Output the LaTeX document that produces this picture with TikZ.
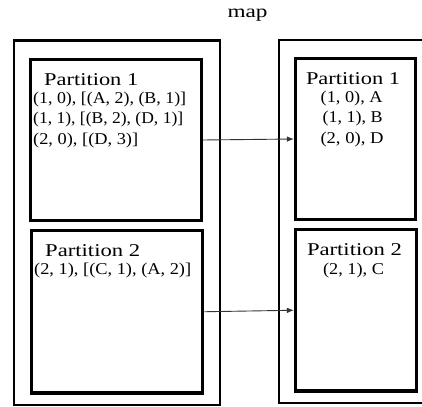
\documentclass[tikz,border=0pt]{standalone}
\usepackage{fontspec}
\setmainfont{Liberation Serif}
\usepackage{graphicx}
\usetikzlibrary{arrows.meta}
\newcommand{\fw}[2]{\resizebox{#1}{\height}{#2}}
\begin{document}
\begin{tikzpicture}[x=1pt,y=-1pt,
  outerbox/.style={draw,line width=2.2pt,rectangle,inner sep=0pt},
  partbox/.style={draw,line width=3.2pt,rectangle,inner sep=0pt},
  ttl/.style={inner sep=0pt,text=black,font=\fontsize{18}{18}\selectfont},
  dat/.style={inner sep=0pt,text=black,font=\fontsize{16.5}{16.5}\selectfont},
  flow/.style={-{Latex[length=7pt,width=5.5pt]},line width=0.9pt,draw=black!80}]
\useasboundingbox (0,0) rectangle (422,406);
\clip (0,0) rectangle (422,406);
% title
\node[ttl,anchor=base] (map) at (247.5,17.3) {\fw{40pt}{map}};
% left side
\node[outerbox,minimum width=205.8pt,minimum height=364.5pt] (lout) at (117.1,222.75) {};
\node[partbox,minimum width=170.6pt,minimum height=160.5pt] (lp1) at (116,140) {};
\node[partbox,minimum width=171pt,minimum height=162.5pt] (lp2) at (117.2,311.75) {};
% right side
\node[outerbox,minimum width=171pt,minimum height=363pt] (rout) at (364.5,221.5) {};
\node[partbox,minimum width=120pt,minimum height=161pt] (rp1) at (355.5,139) {};
\node[partbox,minimum width=121pt,minimum height=161.5pt] (rp2) at (356,310.25) {};
% left texts
\node[ttl,anchor=base west] (lp1t) at (44,86) {\fw{94pt}{Partition 1}};
\node[dat,anchor=base west] (lp1a) at (33,103.5) {\fw{153pt}{(1, 0), [(A, 2), (B, 1)]}};
\node[dat,anchor=base west] (lp1b) at (33,124) {\fw{150pt}{(1, 1), [(B, 2), (D, 1)]}};
\node[dat,anchor=base west] (lp1c) at (33,144.5) {\fw{105pt}{(2, 0), [(D, 3)]}};
\node[ttl,anchor=base west] (lp2t) at (45,256.5) {\fw{95pt}{Partition 2}};
\node[dat,anchor=base west] (lp2a) at (34,274.5) {\fw{157pt}{(2, 1), [(C, 1), (A, 2)]}};
% right texts
\node[ttl,anchor=base] (rp1t) at (353,84.7) {\fw{94pt}{Partition 1}};
\node[dat,anchor=base] (rp1a) at (351.7,102.5) {\fw{62pt}{(1, 0), A}};
\node[dat,anchor=base] (rp1b) at (352.7,123) {\fw{60pt}{(1, 1), B}};
\node[dat,anchor=base] (rp1c) at (352,143.5) {\fw{63pt}{(2, 0), D}};
\node[ttl,anchor=base] (rp2t) at (354.5,255.3) {\fw{95pt}{Partition 2}};
\node[dat,anchor=base] (rp2a) at (353.5,274) {\fw{61pt}{(2, 1), C}};
% arrows
\draw[flow] (lp1.east) -- (rp1.west);
\draw[flow] (lp2.east) -- (rp2.west);
\end{tikzpicture}
\end{document}
